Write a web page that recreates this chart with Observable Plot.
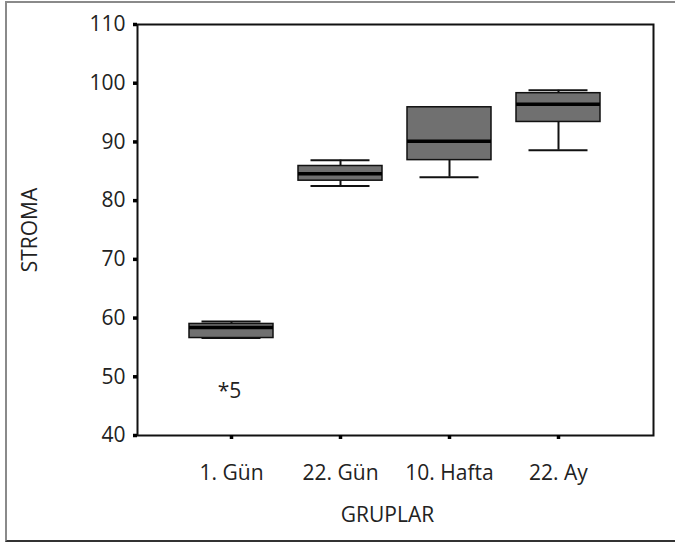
<!DOCTYPE html>
<html>
<head>
<meta charset="utf-8">
<script src="https://cdn.jsdelivr.net/npm/d3@7"></script>
<script src="https://cdn.jsdelivr.net/npm/@observablehq/plot@0.6"></script>
<style>
  html, body { margin: 0; padding: 0; background: #fff; }
  #wrap { position: relative; width: 675px; height: 542px; overflow: hidden; }
  #border { position: absolute; left: 5px; top: 1px; width: 700px; height: 537px;
            border-top: 2px solid #8a8a8a; border-left: 2px solid #8a8a8a; border-bottom: 2px solid #333; }
  #chart { position: absolute; left: 0; top: 0; }
</style>
</head>
<body>
<div id="wrap"><div id="border"></div><div id="chart"></div></div>
<script>
const groups = ["1. Gün", "22. Gün", "10. Hafta", "22. Ay"];
const whiskerLow = [56.6, 82.5, 84.0, 88.6];
const q1 = [56.6, 83.4, 86.9, 93.4];
const median = [58.4, 84.6, 90.1, 96.4];
const q3 = [59.0, 85.9, 95.9, 98.3];
const whiskerHigh = [59.4, 86.9, 95.9, 98.8];
const outlierGroup = ["1. Gün"];
const outlierValue = [48.5];
const outlierLabel = ["*5"];
const yTicks = [40, 50, 60, 70, 80, 90, 100, 110];

const boxes = groups.map((g, i) => ({
  g, lo: whiskerLow[i], q1: q1[i], med: median[i], q3: q3[i], hi: whiskerHigh[i]
}));
const outliers = outlierGroup.map((g, i) => ({g, v: outlierValue[i], label: outlierLabel[i]}));

const font = "'Open Sans', 'Noto Sans', sans-serif";
const W = 675, H = 542, mL = 137, mR = 22, mT = 24, mB = 107;
const fw = W - mL - mR, fh = H - mT - mB;
const fs = 21;

const chart = Plot.plot({
  width: W,
  height: H,
  marginLeft: mL,
  marginRight: mR,
  marginTop: mT,
  marginBottom: mB,
  style: {fontFamily: font, fontSize: fs + "px", color: "#222", background: "transparent"},
  x: {type: "band", domain: groups, paddingInner: 0.225, paddingOuter: 0.46, label: null},
  y: {domain: [40, 110], label: null},
  marks: [
    Plot.ruleX(boxes, {x: "g", y1: "q3", y2: "hi", stroke: "#111", strokeWidth: 2}),
    Plot.ruleX(boxes, {x: "g", y1: "q1", y2: "lo", stroke: "#111", strokeWidth: 2}),
    Plot.tickY(boxes, {x: "g", y: "hi", stroke: "#111", strokeWidth: 2, insetLeft: 12.5, insetRight: 12.5}),
    Plot.tickY(boxes, {x: "g", y: "lo", stroke: "#111", strokeWidth: 2, insetLeft: 12.5, insetRight: 12.5}),
    Plot.barY(boxes, {x: "g", y1: "q1", y2: "q3", fill: "#707070", stroke: "#111", strokeWidth: 1.5}),
    Plot.tickY(boxes, {x: "g", y: "med", stroke: "#000", strokeWidth: 3.5}),
    Plot.text(outliers, {x: "g", y: "v", text: "label", dy: 6, dx: -2, fontSize: fs, fill: "#222"}),
    Plot.frame({stroke: "#111", strokeWidth: 2}),
    // tick squares
    Plot.ruleY(yTicks, {y: d => d, insetLeft: -4, insetRight: fw, stroke: "#000", strokeWidth: 3.5}),
    Plot.ruleX(groups, {x: d => d, insetTop: fh, insetBottom: -4, stroke: "#000", strokeWidth: 3.5}),
    Plot.axisY({ticks: yTicks, tickSize: 4, tickPadding: 8, stroke: "none", fontSize: fs, label: null}),
    Plot.axisX({tickSize: 4, tickPadding: 26, stroke: "none", fontSize: fs, label: null}),
    Plot.text(["STROMA"], {frameAnchor: "left", dx: -107, rotate: -90, textAnchor: "middle", lineAnchor: "middle", fontSize: fs, fill: "#222"}),
    Plot.text(["GRUPLAR"], {frameAnchor: "bottom", dy: 80, dx: -8, textAnchor: "middle", lineAnchor: "middle", fontSize: fs, fill: "#222"})
  ]
});
document.getElementById("chart").appendChild(chart);
</script>
</body>
</html>
